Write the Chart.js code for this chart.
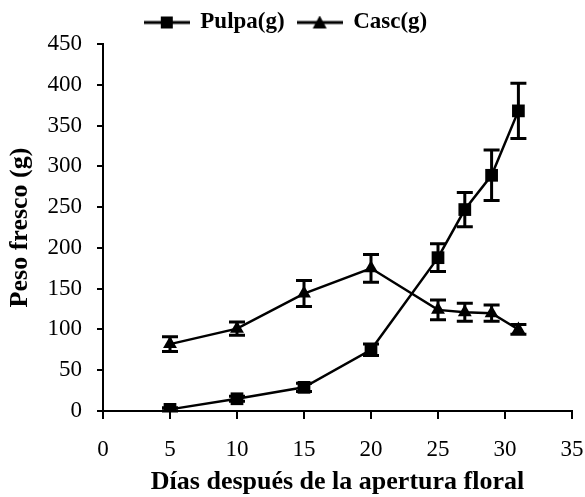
<!DOCTYPE html>
<html>
<head>
<meta charset="utf-8">
<script src="https://cdn.jsdelivr.net/npm/chart.js@4.4.0/dist/chart.umd.min.js"></script>
<style>
  html, body { margin: 0; padding: 0; background: #fff; }
  #wrap { width: 585px; height: 497px; }
</style>
</head>
<body>
<div id="wrap"><canvas id="grafico"></canvas></div>
<script>
// dias despues de la apertura floral
const dias = [5, 10, 15, 20, 25, 27, 29, 31];
const pulpa = [2, 15, 29, 75, 188, 247, 289, 368];
const pulpaErr = [2, 3, 5, 7, 17, 21, 31, 34];
const casc = [82, 101, 144, 175, 124, 121, 120, 100];
const cascErr = [9, 8, 16, 17, 12, 11, 10, 6];
const xTicks = [0, 5, 10, 15, 20, 25, 30, 35];
const yTicks = [0, 50, 100, 150, 200, 250, 300, 350, 400, 450];

const serif = "'Liberation Serif', 'Times New Roman', serif";

// little line + marker image for the legend
const legendIcon = function (style) {
  const c = document.createElement("canvas");
  c.width = 46;
  c.height = 14;
  const ctx = c.getContext("2d");
  ctx.strokeStyle = "#000";
  ctx.fillStyle = "#000";
  ctx.lineWidth = 3;
  ctx.beginPath();
  ctx.moveTo(0, 7);
  ctx.lineTo(46, 7);
  ctx.stroke();
  if (style === "rect") {
    ctx.fillRect(17, 1, 12, 12);
  } else {
    ctx.beginPath();
    ctx.moveTo(23, 0);
    ctx.lineTo(30, 13);
    ctx.lineTo(16, 13);
    ctx.closePath();
    ctx.fill();
  }
  return c;
};

// error bars drawn with the chart scales
const errorBars = {
  id: "errorBars",
  afterDatasetsDraw(chart) {
    const ctx = chart.ctx;
    const xs = chart.scales.x;
    const ys = chart.scales.y;
    ctx.save();
    ctx.strokeStyle = "#000";
    ctx.lineWidth = 3;
    chart.data.datasets.forEach((ds) => {
      ds.data.forEach((p, i) => {
        const e = ds.errors[i];
        const px = xs.getPixelForValue(p.x);
        const top = ys.getPixelForValue(p.y + e);
        const bot = ys.getPixelForValue(p.y - e);
        ctx.beginPath();
        ctx.moveTo(px, top);
        ctx.lineTo(px, bot);
        ctx.moveTo(px - 8, top);
        ctx.lineTo(px + 8, top);
        ctx.moveTo(px - 8, bot);
        ctx.lineTo(px + 8, bot);
        ctx.stroke();
      });
    });
    ctx.restore();
  },
};

const toPoints = (ys) => dias.map((d, i) => ({ x: d, y: ys[i] }));

new Chart(document.querySelector("#grafico"), {
  type: "line",
  data: {
    datasets: [
      {
        label: "Pulpa(g)",
        data: toPoints(pulpa),
        errors: pulpaErr,
        borderColor: "#000",
        backgroundColor: "#000",
        borderWidth: 2.5,
        pointStyle: "rect",
        pointRadius: 9,
        pointBorderWidth: 0,
      },
      {
        label: "Casc(g)",
        data: toPoints(casc),
        errors: cascErr,
        borderColor: "#000",
        backgroundColor: "#000",
        borderWidth: 2.5,
        pointStyle: "triangle",
        pointRadius: 8,
        pointBorderWidth: 0,
      },
    ],
  },
  options: {
    responsive: true,
    maintainAspectRatio: false,
    animation: false,
    layout: { padding: { left: 0, right: 13, top: -5, bottom: 0 } },
    plugins: {
      tooltip: { enabled: false },
      legend: {
        position: "top",
        labels: {
          usePointStyle: true,
          pointStyleWidth: 44,
          padding: 13,
          color: "#000",
          font: { family: serif, size: 23, weight: "bold" },
          generateLabels: (chart) =>
            chart.data.datasets.map((ds, i) => ({
              text: ds.label,
              pointStyle: legendIcon(i === 0 ? "rect" : "tri"),
              datasetIndex: i,
              fontColor: "#000",
              lineWidth: 0,
              strokeStyle: "transparent",
              fillStyle: "transparent",
            })),
        },
      },
    },
    scales: {
      x: {
        type: "linear",
        min: 0,
        max: 35,
        afterBuildTicks: (s) => { s.ticks = xTicks.map((v) => ({ value: v })); },
        afterFit: (s) => {
          s.height = 86;
          s.paddingLeft = 0;
          s.paddingRight = 0;
        },
        grid: { drawOnChartArea: false, drawTicks: true, tickLength: 8, color: "#000", lineWidth: 2 },
        border: { display: true, color: "#000", width: 2 },
        ticks: { color: "#000", padding: 17, maxRotation: 0, font: { family: serif, size: 23 } },
        title: {
          display: true,
          text: "Días después de la apertura floral",
          color: "#000",
          padding: { top: 0, bottom: -1 },
          font: { family: serif, size: 26, weight: "bold" },
        },
      },
      y: {
        min: 0,
        max: 450,
        afterBuildTicks: (s) => { s.ticks = yTicks.map((v) => ({ value: v })); },
        afterFit: (s) => {
          s.width = 103;
          s.paddingTop = 44;
        },
        grid: { drawOnChartArea: false, drawTicks: true, tickLength: 6, color: "#000", lineWidth: 2 },
        border: { display: true, color: "#000", width: 2 },
        ticks: { color: "#000", padding: 15, font: { family: serif, size: 23 } },
        title: {
          display: true,
          text: "Peso fresco (g)",
          color: "#000",
          padding: { top: 5, bottom: 0 },
          font: { family: serif, size: 26, weight: "bold" },
        },
      },
    },
  },
  plugins: [errorBars],
});
</script>
</body>
</html>
